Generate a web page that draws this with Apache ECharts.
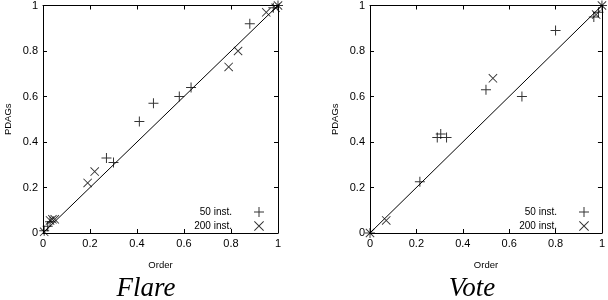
<!DOCTYPE html>
<html><head><meta charset="utf-8">
<script src="https://cdn.jsdelivr.net/npm/echarts@6/dist/echarts.min.js"></script>
<style>html,body{margin:0;padding:0;background:#fff}#c{width:608px;height:300px}</style>
</head><body><div id="c"></div>
<script>
const ticks = [0, 0.2, 0.4, 0.6, 0.8, 1];
const seriesNames = ['50 inst.', '200 inst.'];
const panelTitles = ['Flare', 'Vote'];
const xName = 'Order';
const yName = 'PDAGs';
const diag = [[0, 0], [1, 1]];
const flare50 = [[0.005,0.01],[0.02,0.03],[0.03,0.05],[0.27,0.33],[0.30,0.31],[0.41,0.49],[0.47,0.57],[0.58,0.60],[0.63,0.64],[0.88,0.92],[0.98,0.99],[1,1]];
const flare200 = [[0.005,0.005],[0.03,0.055],[0.04,0.06],[0.05,0.06],[0.19,0.22],[0.22,0.27],[0.79,0.73],[0.83,0.80],[0.95,0.97],[0.99,0.99],[1,1]];
const vote50 = [[0,0],[0.215,0.225],[0.29,0.42],[0.305,0.435],[0.33,0.42],[0.50,0.63],[0.655,0.60],[0.80,0.89],[0.965,0.95],[0.985,0.97],[1,1]];
const vote200 = [[0,0],[0.07,0.055],[0.53,0.68],[0.975,0.96],[1,1]];

const PLUS = 'path://M0,4.5L10,4.5L10,5.5L0,5.5Z M4.5,0L5.5,0L5.5,10L4.5,10Z';
const CROSS = 'path://M0,0.7L0.7,0L10,9.3L9.3,10Z M9.3,0L10,0.7L0.7,10L0,9.3Z';
const font = 'Liberation Sans, Arial, sans-serif';

const grids = [
  {left: 43, top: 3, width: 235, height: 230},
  {left: 370, top: 3, width: 233, height: 230}
];
const xAxis = [], yAxis = [], series = [], legend = [], title = [];
const datasets = [[flare50, flare200], [vote50, vote200]];
grids.forEach((g, i) => {
  const base = {min: 0, max: 1, interval: 0.2, gridIndex: i, splitLine: {show: false},
    axisLine: {show: true, onZero: false, lineStyle: {color: '#000', width: 1}},
    axisTick: {show: true, inside: true, length: 4, lineStyle: {color: '#000'}}};
  xAxis.push(Object.assign({}, base, {type: 'value', position: 'bottom', name: xName, nameLocation: 'middle', nameGap: 27,
    nameTextStyle: {fontFamily: font, fontSize: 9.5, color: '#000'},
    axisLabel: {show: true, fontFamily: font, fontSize: 11, color: '#000', margin: 5}}));
  xAxis.push(Object.assign({}, base, {type: 'value', position: 'top', axisLabel: {show: false}}));
  yAxis.push(Object.assign({}, base, {type: 'value', position: 'left', name: yName, nameLocation: 'middle', nameGap: 30,
    nameTextStyle: {fontFamily: font, fontSize: 9.5, color: '#000'},
    axisLabel: {show: true, fontFamily: font, fontSize: 11, color: '#000', margin: 5}}));
  yAxis.push(Object.assign({}, base, {type: 'value', position: 'right', axisLabel: {show: false}}));
  series.push({type: 'line', xAxisIndex: 2*i, yAxisIndex: 2*i, data: diag, showSymbol: false, symbol: 'none',
    lineStyle: {color: '#000', width: 1}, silent: true, z: 1});
  series.push({type: 'scatter', name: seriesNames[0], xAxisIndex: 2*i, yAxisIndex: 2*i, data: datasets[i][0],
    symbol: PLUS, symbolSize: 10, itemStyle: {color: '#000'}});
  series.push({type: 'scatter', name: seriesNames[1], xAxisIndex: 2*i, yAxisIndex: 2*i, data: datasets[i][1],
    symbol: CROSS, symbolSize: 9, itemStyle: {color: '#000'}});
  const iconRight = 608 - (g.left + g.width) + 14;
  [0, 1].forEach(k => {
    legend.push({data: [seriesNames[k]], orient: 'vertical', align: 'right', right: iconRight, top: 207 + k*14,
      itemWidth: 10, itemHeight: 10, itemGap: 0, selectedMode: false, padding: 0,
      textStyle: {fontFamily: font, fontSize: 10, color: '#000', padding: [0, 17, 0, 0]}});
  });
  title.push({text: panelTitles[i], left: i === 0 ? 141 : 467, top: 270, textAlign: 'center',
    textStyle: {fontFamily: 'Liberation Serif, Times New Roman, serif', fontStyle: 'italic', fontWeight: 'normal', fontSize: 27, color: '#000'}});
});

const chart = echarts.init(document.getElementById('c'), null, {renderer: 'canvas'});
chart.setOption({animation: false, backgroundColor: '#fff', grid: grids, xAxis, yAxis, series, legend, title});
</script></body></html>
